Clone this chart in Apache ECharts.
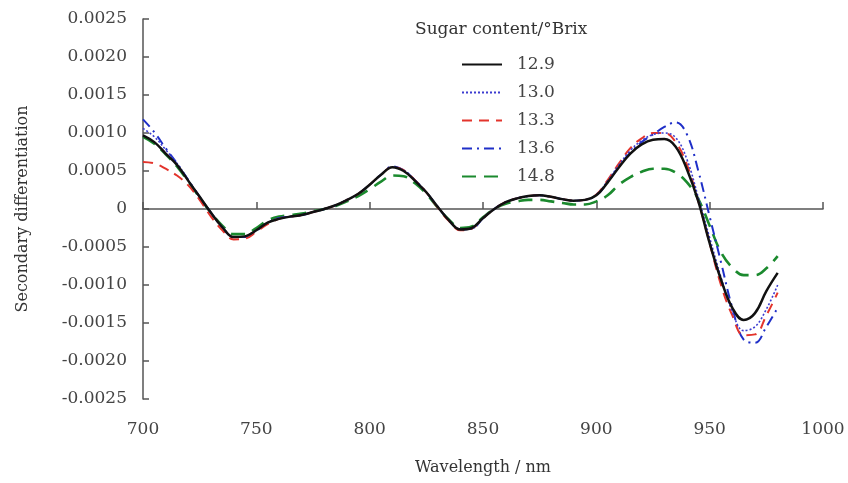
<!DOCTYPE html>
<html>
<head>
<meta charset="utf-8">
<script src="https://cdn.jsdelivr.net/npm/echarts@6/dist/echarts.min.js"></script>
<style>
  html, body { margin: 0; padding: 0; background: #fff; }
  #chart { width: 848px; height: 483px; }
</style>
</head>
<body>
<div id="chart"></div>
<script>
// wavelengths (nm)
var wavelength = [700, 705, 710, 715, 720, 725, 730, 735, 740, 745, 750, 755, 760, 765, 770, 775, 780, 785, 790, 795,
  800, 805, 810, 815, 820, 825, 830, 835, 840, 845, 850, 855, 860, 865, 870, 875, 880, 885, 890, 895,
  900, 905, 910, 915, 920, 925, 930, 935, 940, 945, 950, 955, 960, 965, 970, 975, 980]

var brix = ['12.9', '13.0', '13.3', '13.6', '14.8']

// second derivative values
var s129 = [0.00097, 0.00088, 0.00073, 0.00058, 0.00037, 0.00016, -0.00005, -0.00024, -0.00037, -0.00036,
  -0.00028, -0.00018, -0.00013, -0.0001, -0.00008, -0.00004, 0.0, 0.00005, 0.00012, 0.0002,
  0.00032, 0.00045, 0.00055, 0.0005, 0.00037, 0.00022, 0.00003, -0.00015, -0.00027, -0.00025,
  -0.00012, 0.0, 0.00009, 0.00014, 0.00017, 0.00018, 0.00016, 0.00013, 0.00011, 0.00012,
  0.00018, 0.00035, 0.00055, 0.00073, 0.00085, 0.00091, 0.00092, 0.00082, 0.00052, 0.0001,
  -0.00045, -0.00093, -0.0013, -0.00146, -0.00137, -0.00108, -0.00084]
var s130 = [0.00106, 0.00095, 0.00078, 0.0006, 0.00038, 0.00016, -0.00005, -0.00024, -0.00037, -0.00036,
  -0.00028, -0.00018, -0.00012, -0.0001, -0.00008, -0.00004, 0.0, 0.00005, 0.00012, 0.0002,
  0.00032, 0.00045, 0.00055, 0.00051, 0.00038, 0.00022, 0.00003, -0.00015, -0.00027, -0.00026,
  -0.00012, 0.0, 0.00009, 0.00014, 0.00017, 0.00018, 0.00016, 0.00013, 0.00011, 0.00012,
  0.00019, 0.00037, 0.00058, 0.00077, 0.0009, 0.00098, 0.001, 0.00094, 0.00065, 0.00015,
  -0.00038, -0.0009, -0.00135, -0.0016, -0.00155, -0.00132, -0.001]
var s133 = [0.00062, 0.0006, 0.00053, 0.00044, 0.00031, 0.00012, -0.0001, -0.00028, -0.0004, -0.00039,
  -0.0003, -0.0002, -0.00013, -0.0001, -0.00008, -0.00004, 0.0, 0.00005, 0.00012, 0.0002,
  0.00032, 0.00045, 0.00055, 0.00051, 0.00038, 0.00022, 0.00002, -0.00016, -0.00028, -0.00026,
  -0.00012, 0.0, 0.00009, 0.00014, 0.00017, 0.00018, 0.00016, 0.00013, 0.00011, 0.00012,
  0.00019, 0.00038, 0.0006, 0.0008, 0.00093, 0.001, 0.001, 0.00088, 0.00058, 0.0001,
  -0.00045, -0.001, -0.0014, -0.00166, -0.00165, -0.0014, -0.0011]
var s136 = [0.00118, 0.00101, 0.0008, 0.0006, 0.00038, 0.00016, -0.00005, -0.00024, -0.00037, -0.00037,
  -0.00029, -0.00018, -0.00012, -0.0001, -0.00008, -0.00004, 0.0, 0.00005, 0.00012, 0.0002,
  0.00032, 0.00045, 0.00056, 0.00051, 0.00038, 0.00022, 0.00003, -0.00015, -0.00027, -0.00026,
  -0.00012, 0.0, 0.00009, 0.00014, 0.00017, 0.00018, 0.00016, 0.00013, 0.00011, 0.00012,
  0.00018, 0.00035, 0.00056, 0.00074, 0.00088, 0.00098, 0.00108, 0.00114, 0.00098, 0.0005,
  -0.0001, -0.0007, -0.0013, -0.00172, -0.00176, -0.00155, -0.0013]
var s148 = [0.00095, 0.00086, 0.00072, 0.00056, 0.00036, 0.00015, -0.00005, -0.00022, -0.00033, -0.00033,
  -0.00025, -0.00015, -0.0001, -0.00008, -0.00006, -0.00003, 0.0, 0.00004, 0.0001, 0.00017,
  0.00026, 0.00036, 0.00044, 0.00043, 0.00034, 0.0002, 0.00002, -0.00014, -0.00025, -0.00023,
  -0.00011, 0.0, 0.00007, 0.0001, 0.00012, 0.00012, 0.0001, 0.00008, 0.00006, 0.00006,
  0.0001, 0.00018, 0.00032, 0.00042, 0.00049, 0.00053, 0.00053, 0.00048, 0.00035, 0.00013,
  -0.00022, -0.00057, -0.00077, -0.00087, -0.00087, -0.00078, -0.00062]

var allValues = [s129, s130, s133, s136, s148]
var colors = ['#111111', '#3c3cd0', '#e3342c', '#1f2fc8', '#1b8a2e']
var lineTypes = ['solid', [2, 2], [10, 7], [10, 5, 2, 5], [14, 8]]
var lineWidths = [2.5, 1.6, 2, 2, 2.6]

var FONT = 'DejaVu Serif'

function pairs (vals) {
  return wavelength.map(function (w, i) { return [w, vals[i]] })
}

var series = []
for (var i = 0; i < brix.length; i++) {
  series.push({
    name: brix[i],
    type: 'line',
    smooth: 0.4,
    symbol: 'none',
    data: pairs(allValues[i]),
    z: 10 - i,
    itemStyle: { color: colors[i] },
    lineStyle: { color: colors[i], width: lineWidths[i], type: lineTypes[i] }
  })
}

var chart = echarts.init(document.getElementById('chart'))
chart.setOption({
  animation: false,
  backgroundColor: '#fff',
  title: {
    text: 'Sugar content/°Brix',
    left: 410,
    top: 16,
    textStyle: { fontFamily: FONT, fontSize: 17, fontWeight: 'normal', color: '#333' }
  },
  legend: {
    orient: 'vertical',
    left: 456,
    top: 51,
    itemWidth: 40,
    itemHeight: 14,
    itemGap: 11,
    data: brix,
    itemStyle: { opacity: 0 },
    textStyle: { fontFamily: FONT, fontSize: 17, color: '#444', padding: [0, 0, 0, 10] }
  },
  grid: { left: 143, right: 25, top: 19, bottom: 84 },
  xAxis: {
    type: 'value',
    min: 700,
    max: 1000,
    interval: 50,
    name: 'Wavelength / nm',
    nameLocation: 'middle',
    nameGap: 61,
    nameTextStyle: { fontFamily: FONT, fontSize: 16, color: '#333' },
    axisLine: { lineStyle: { color: '#555', width: 1.5 } },
    axisTick: { inside: true, length: 7, lineStyle: { color: '#555', width: 1.5 } },
    axisLabel: {
      fontFamily: FONT,
      fontSize: 17,
      color: '#444',
      margin: 22,
      formatter: function (v) { return String(v) }
    },
    splitLine: { show: false }
  },
  yAxis: {
    type: 'value',
    min: -0.0025,
    max: 0.0025,
    interval: 0.0005,
    name: 'Secondary differentiation',
    nameLocation: 'middle',
    nameGap: 112,
    nameTextStyle: { fontFamily: FONT, fontSize: 16, color: '#333' },
    axisLine: { show: true, lineStyle: { color: '#555', width: 1.5 } },
    axisTick: { show: true, inside: true, length: 6, lineStyle: { color: '#555', width: 1.5 } },
    axisLabel: {
      fontFamily: FONT,
      fontSize: 17,
      color: '#444',
      margin: 16,
      formatter: function (v) {
        if (Math.abs(v) < 1e-9) return '0'
        return v.toFixed(4)
      }
    },
    splitLine: { show: false }
  },
  series: series
})
</script>
</body>
</html>
